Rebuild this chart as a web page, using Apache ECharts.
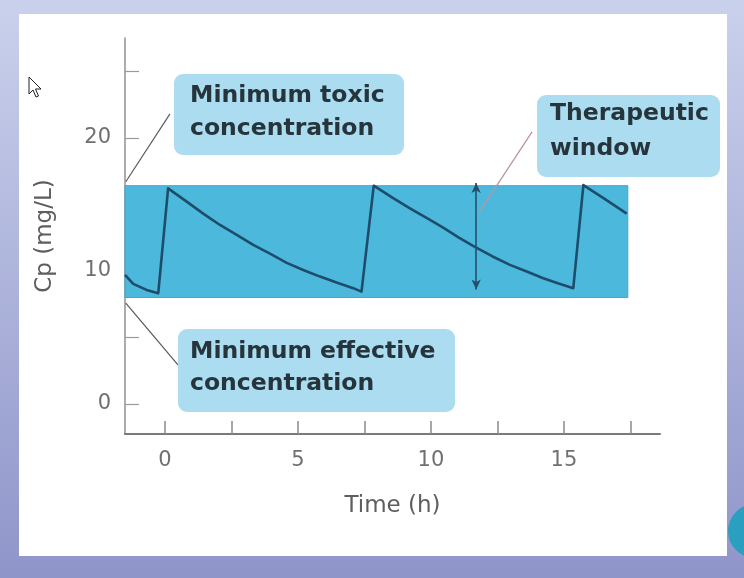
<!DOCTYPE html>
<html>
<head>
<meta charset="utf-8">
<script src="https://cdn.jsdelivr.net/npm/echarts@6/dist/echarts.min.js"></script>
<style>html,body{margin:0;padding:0;background:#fff}#c{width:744px;height:578px}</style>
</head>
<body>
<div id="c"></div>
<script>
// ---- data ----
const timeH = [-1.5, -1.19, -0.69, -0.25, 0.12, 0.82, 1.44, 2.07, 2.70, 3.32, 3.95, 4.58, 5.2, 5.83, 6.45, 7.08, 7.39,
               7.85, 8.55, 9.21, 9.9, 10.46, 11.05, 11.65, 12.3, 12.97, 13.6, 14.22, 14.8, 15.35,
               15.73, 16.5, 17.36];
const cpMgL = [9.7, 9.02, 8.57, 8.32, 16.2, 15.2, 14.3, 13.45, 12.7, 11.95, 11.3, 10.6, 10.07, 9.57, 9.12, 8.7, 8.44,
               16.4, 15.5, 14.7, 13.9, 13.25, 12.5, 11.8, 11.1, 10.45, 9.95, 9.45, 9.05, 8.7,
               16.45, 15.45, 14.3];
const minEffective = 8.0;
const minToxic = 16.4;
const windowStartT = -1.5;
const windowEndT = 17.4;
const windowArrowT = 11.7;
const windowArrowCp = [8.6, 16.6];
const xTickValues = [0, 2.5, 5, 7.5, 10, 12.5, 15, 17.5];
const xLabelValues = [0, 5, 10, 15];
const yTickValues = [0, 5, 10, 15, 20, 25];
const yLabelValues = [0, 10, 20];
const mtcLeaderT = [-1.47, 0.19], mtcLeaderCp = [16.7, 21.8];
const mecLeaderT = [-1.47, 0.49], mecLeaderCp = [7.57, 2.93];
const twLeaderT = [13.8, 11.8], twLeaderCp = [20.45, 14.35];
const xName = 'Time (h)';
const yName = 'Cp (mg/L)';
const labelMTC = 'Minimum toxic\nconcentration';
const labelTW = 'Therapeutic\nwindow';
const labelMEC = 'Minimum effective\nconcentration';

const zip = (a, b) => a.map((v, i) => [v, b[i]]);

const chart = echarts.init(document.getElementById('c'), null, {renderer: 'canvas'});
const boxFill = '#abdcf0';
const boxText = '#26343c';
const boxFont = 'bold 23.5px "DejaVu Sans"';

function box(x, y, w, h, tx, ty, text, lh) {
  return [
    {type: 'rect', z: 5, shape: {x: x, y: y, width: w, height: h, r: 9}, style: {fill: boxFill}},
    {type: 'text', z: 6, x: tx, y: ty, style: {text: text, font: boxFont, fill: boxText, lineHeight: lh, verticalAlign: 'top'}}
  ];
}

const option = {
  animation: false,
  grid: {left: 125, right: 84, top: 38, bottom: 144},
  xAxis: {
    type: 'value', min: -1.5, max: 18.61,
    name: xName, nameLocation: 'middle', nameGap: 61,
    nameTextStyle: {fontFamily: 'DejaVu Sans', fontSize: 23, color: '#5e5e5e'},
    axisLine: {show: true, onZero: false, lineStyle: {color: '#7a7a7a', width: 2}},
    axisTick: {show: true, inside: true, length: 13, customValues: xTickValues, lineStyle: {color: '#8a8a8a', width: 1.5}},
    axisLabel: {customValues: xLabelValues, margin: 16, fontFamily: 'DejaVu Sans', fontSize: 21, color: '#707070'},
    splitLine: {show: false}
  },
  yAxis: {
    type: 'value', min: -2.26, max: 27.5,
    name: yName, nameLocation: 'middle', nameGap: 68,
    nameTextStyle: {fontFamily: 'DejaVu Sans', fontSize: 23, color: '#5e5e5e'},
    axisLine: {show: true, onZero: false, lineStyle: {color: '#909090', width: 1.5}},
    axisTick: {show: true, inside: true, length: 14, customValues: yTickValues, lineStyle: {color: '#9a9a9a', width: 1.2}},
    axisLabel: {customValues: yLabelValues, margin: 14, fontFamily: 'DejaVu Sans', fontSize: 21, color: '#707070'},
    splitLine: {show: false}
  },
  graphic: [
    {type: 'rect', z: -20, silent: true, shape: {x: 0, y: 0, width: 744, height: 578},
     style: {fill: new echarts.graphic.LinearGradient(0, 0, 0, 1, [{offset: 0, color: '#cad1ec'}, {offset: 1, color: '#8f95c9'}])}},
    {type: 'rect', z: -19, silent: true, shape: {x: 19, y: 14, width: 708, height: 542}, style: {fill: '#ffffff'}},
    {type: 'circle', z: -18, silent: true, shape: {cx: 755, cy: 531, r: 27}, style: {fill: '#2a9fbf'}},
    {type: 'polygon', z: 10, silent: true, shape: {points: [[29, 77], [29, 94], [33, 90], [36, 97], [38.5, 96], [35.5, 89], [41, 89]]},
     style: {fill: '#ffffff', stroke: '#222', lineWidth: 1}},
    ...box(174, 74, 230, 81, 190, 79, labelMTC, 33),
    ...box(537, 95, 183, 82, 550, 96, labelTW, 35),
    ...box(178, 329, 277, 83, 190, 336, labelMEC, 32)
  ],
  series: [
    {
      type: 'line', z: 1, data: [], silent: true,
      markArea: {silent: true, itemStyle: {color: '#4cb8dc', borderColor: '#3ea8cc', borderWidth: 1},
        data: [[{coord: [windowStartT, minEffective]}, {coord: [windowEndT, minToxic]}]]}
    },
    {
      type: 'line', z: 4, data: zip(timeH, cpMgL), symbol: 'none', silent: true,
      lineStyle: {color: '#1e4d6c', width: 2.6, join: 'round'},
      markLine: {silent: true, symbol: ['arrow', 'arrow'], symbolSize: [7, 10],
        lineStyle: {color: '#24506e', width: 1.6, type: 'solid'}, label: {show: false},
        data: [[{coord: [windowArrowT, windowArrowCp[0]]}, {coord: [windowArrowT, windowArrowCp[1]]}]]}
    },
    {type: 'line', z: 3, data: zip(mtcLeaderT, mtcLeaderCp), symbol: 'none', silent: true, lineStyle: {color: '#555c60', width: 1.2}},
    {type: 'line', z: 3, data: zip(mecLeaderT, mecLeaderCp), symbol: 'none', silent: true, lineStyle: {color: '#5a5560', width: 1.2}},
    {type: 'line', z: 3, data: zip(twLeaderT, twLeaderCp), symbol: 'none', silent: true, lineStyle: {color: '#b895a6', width: 1.3}}
  ]
};
chart.setOption(option);
</script>
</body>
</html>
